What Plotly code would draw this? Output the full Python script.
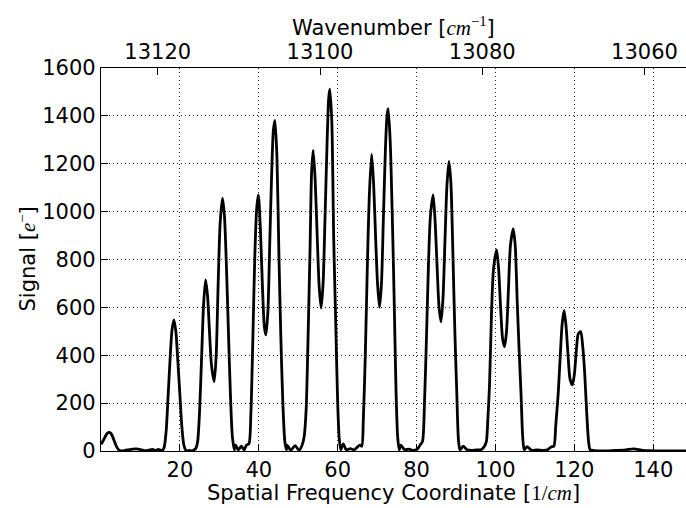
import plotly.graph_objects as go

# Spatial frequency coordinate [1/cm]
freq = [0, 0.5, 1, 1.5, 2, 2.5, 3, 3.5, 4, 4.5, 5, 6, 7, 8, 9, 10, 11, 12, 13, 13.5, 14, 14.5, 15, 15.5,
        16, 16.5, 17, 17.5, 18, 18.5, 19, 19.5, 20, 20.5, 21, 21.5,
        22, 22.5, 23, 23.5, 24,
        24.5, 25, 25.5, 26, 26.5, 27, 27.5, 28, 28.7, 29.2, 29.7, 30.2, 30.8, 31.3, 31.8, 32.3, 32.8, 33.3, 33.8,
        34.1, 34.8, 35.6, 36.3, 36.9,
        37.5, 38, 38.5, 39, 39.5, 39.9, 40.4, 40.9, 41.4, 41.8, 42.3, 42.8, 43.3, 43.7, 44.1, 44.6, 45.1, 45.6, 46.1, 46.6, 47.0,
        47.2, 48.1, 49.2, 50.2, 51.0,
        51.5, 52, 52.5, 53, 53.4, 53.8, 54.3, 54.8, 55.3, 55.8, 56.3, 56.8, 57.3, 57.7, 58.0, 58.5, 59, 59.5, 60, 60.4, 60.8,
        61.4, 62.2, 63.2, 64.2, 65.6,
        66.1, 66.5, 67, 67.5, 68, 68.6, 69.1, 69.6, 70.1, 70.6, 71.1, 71.6, 72.1, 72.5, 72.8, 73.3, 73.8, 74.3, 74.8, 75.2, 75.6,
        76, 77, 78, 79, 80.2, 80.9,
        81.5, 82, 82.5, 83, 83.5, 84.2, 84.7, 85.2, 85.7, 86.2, 86.7, 87.2, 87.7, 88.2, 88.7, 89.2, 89.7, 90.2, 90.6, 91,
        91.8, 92.8, 94, 95.2, 96.3, 97.2,
        97.7, 98, 98.5, 99, 99.5, 100.3, 100.8, 101.3, 101.8, 102.3, 102.8, 103.3, 103.8, 104.5, 105, 105.5, 106, 106.5, 106.9, 107.3,
        108, 109.2, 110.5, 112, 113.2, 114.2,
        114.8, 115.3, 115.9, 116.4, 116.9, 117.4, 117.9, 118.4, 118.9, 119.5, 120, 120.5, 121, 121.6, 122.1, 122.6, 123.1, 123.6, 124,
        125, 127, 130, 133, 135, 137, 139, 142, 145, 148.5]

# Signal [e-]
signal = [28, 42, 58, 72, 78, 74, 58, 36, 16, 5, 1, 2, 5, 8, 9, 6, 2, 3, 7, 4, 2, 7, 4, 2,
          15, 80, 225, 380, 505, 548, 495, 370, 235, 100, 25, 3,
          0, 3, 0, 4, 10,
          40, 170, 390, 610, 715, 650, 500, 360, 290, 400, 700, 950, 1056, 980, 770, 500, 240, 60, 5,
          25, 5, 20, 5, 25,
          30, 160, 470, 820, 1020, 1070, 930, 700, 520, 485, 580, 880, 1180, 1340, 1381, 1230, 820, 470, 200, 40, 5,
          25, 3, 22, 3, 25,
          60, 170, 480, 850, 1170, 1256, 1130, 900, 690, 597, 700, 980, 1280, 1470, 1512, 1380, 880, 540, 200, 50, 5,
          30, 5, 10, 5, 25,
          20, 130, 400, 760, 1060, 1240, 1120, 900, 700, 600, 700, 980, 1260, 1400, 1430, 1300, 1010, 650, 245, 60, 5,
          25, 5, 8, 3, 8, 25,
          40, 200, 470, 770, 980, 1070, 960, 770, 600, 540, 640, 880, 1110, 1210, 1120, 830, 500, 240, 50, 5,
          20, 5, 3, 5, 5, 20,
          40, 110, 280, 580, 760, 840, 760, 600, 470, 436, 500, 680, 860, 928, 860, 630, 420, 230, 60, 5,
          18, 3, 5, 3, 5, 18,
          20, 110, 240, 390, 530, 587, 520, 400, 300, 276, 320, 420, 490, 499, 440, 330, 170, 40, 5,
          2, 0, 2, 5, 9, 4, 1, 0, 0, 0]

# Top axis: wavenumber [cm^-1] ticks
wn_ticks = [13120, 13100, 13080, 13060]
wn_at_zero = 13127.0      # wavenumber at spatial frequency 0
wn_per_freq = -0.4863     # change of wavenumber per unit of spatial frequency

x_ticks = [20, 40, 60, 80, 100, 120, 140]
y_ticks = [0, 200, 400, 600, 800, 1000, 1200, 1400, 1600]

x_max = 148.3
wavenumber = [wn_at_zero + wn_per_freq * f for f in freq]

FONT = "DejaVu Sans"
MATH = "Liberation Serif"
FS = 21

fig = go.Figure()
fig.add_trace(go.Scatter(x=freq, y=signal, mode="lines",
                         line=dict(color="black", width=2.8, shape="spline", smoothing=0.7),
                         showlegend=False, hoverinfo="skip"))
fig.add_trace(go.Scatter(x=wavenumber, y=signal, xaxis="x2", mode="lines",
                         line=dict(color="rgba(0,0,0,0)", width=0),
                         showlegend=False, hoverinfo="skip"))

axis_common = dict(showline=True, linecolor="black", linewidth=1.2,
                   ticks="inside", ticklen=7, tickwidth=1, tickcolor="black",
                   tickfont=dict(family=FONT, size=FS, color="black"),
                   zeroline=False)
grid = dict(showgrid=True, gridcolor="#222222", griddash="1px,3px", gridwidth=1)

fig.update_layout(
    width=686, height=508,
    margin=dict(l=101, r=0, t=68, b=57),
    paper_bgcolor="white", plot_bgcolor="white",
    font=dict(family=FONT, size=FS, color="black"),
    xaxis=dict(range=[0, x_max], tickvals=x_ticks, **grid, **axis_common),
    yaxis=dict(range=[0, 1600], tickvals=y_ticks, **grid, **axis_common),
    xaxis2=dict(overlaying="x", side="top",
                range=[wn_at_zero, wn_at_zero + wn_per_freq * x_max],
                tickvals=wn_ticks, tickformat="d", showgrid=False, **axis_common),
    annotations=[
        dict(text="Wavenumber [<span style='font-family:%s'><i>cm</i><sup>−1</sup></span>]" % MATH,
             xref="paper", yref="paper", x=0.5, y=1, xanchor="center", yanchor="bottom",
             yshift=26, showarrow=False, font=dict(family=FONT, size=FS, color="black")),
        dict(text="Spatial Frequency Coordinate [<span style='font-family:%s'>1/<i>cm</i></span>]" % MATH,
             xref="paper", yref="paper", x=0.5, y=0, xanchor="center", yanchor="top",
             yshift=-28, showarrow=False, font=dict(family=FONT, size=FS, color="black")),
        dict(text="Signal [<span style='font-family:%s'><i>e</i><sup>−</sup></span>]" % MATH,
             xref="paper", yref="paper", x=0, y=0.5, xanchor="center", yanchor="middle",
             xshift=-74, textangle=-90, showarrow=False,
             font=dict(family=FONT, size=FS, color="black")),
    ],
)

fig.write_html("out.html")
